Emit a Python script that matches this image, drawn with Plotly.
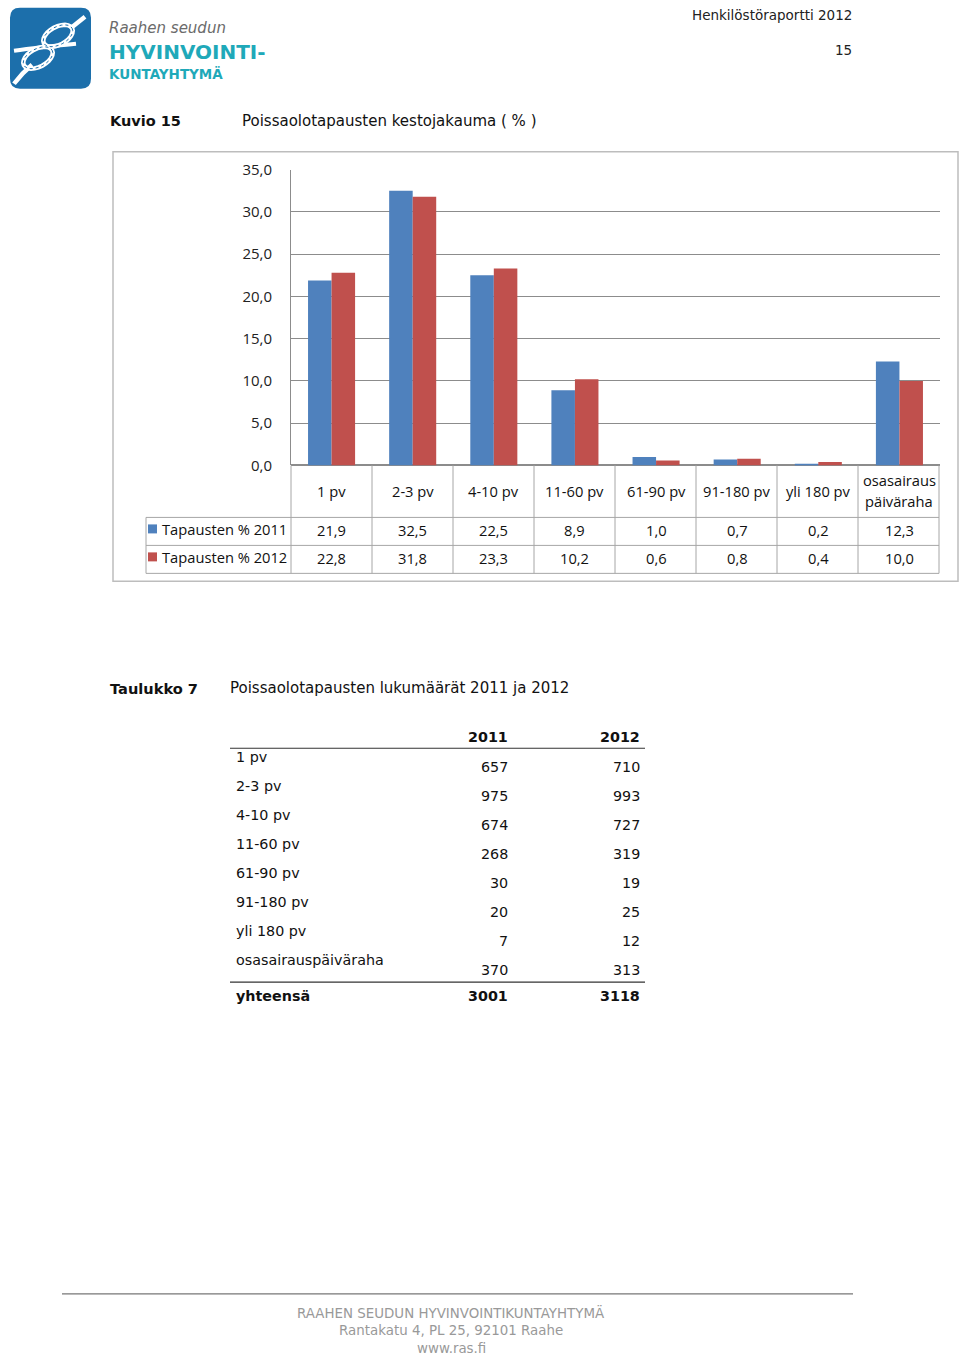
import math
import plotly.graph_objects as go

# ---- data ----
categories = ["1 pv", "2-3 pv", "4-10 pv", "11-60 pv", "61-90 pv", "91-180 pv", "yli 180 pv", "osasairaus<br>päiväraha"]
pct_2011 = [21.9, 32.5, 22.5, 8.9, 1.0, 0.7, 0.2, 12.3]
pct_2012 = [22.8, 31.8, 23.3, 10.2, 0.6, 0.8, 0.4, 10.0]
series_names = ["Tapausten % 2011", "Tapausten % 2012"]
y_ticks = [0, 5, 10, 15, 20, 25, 30, 35]

table_rows = ["1 pv", "2-3 pv", "4-10 pv", "11-60 pv", "61-90 pv", "91-180 pv", "yli 180 pv", "osasairauspäiväraha"]
count_2011 = [657, 975, 674, 268, 30, 20, 7, 370]
count_2012 = [710, 993, 727, 319, 19, 25, 12, 313]
table_years = ["2011", "2012"]

W, H = 960, 1356
BLUE, RED = "#4F81BD", "#C0504D"
FONT = "DejaVu Sans"
CFONT = "Open Sans"

def px(x):
    return x / W

def py(y):
    # empirical correction for the rendered vertical placement
    return 1 - ((y - 9.2) / 0.986) / H

fig = go.Figure()
fig.add_trace(go.Bar(x=categories, y=pct_2011, name=series_names[0], marker_color=BLUE, marker_line_width=0))
fig.add_trace(go.Bar(x=categories, y=pct_2012, name=series_names[1], marker_color=RED, marker_line_width=0))

shapes = []
ann = []

def line(x0, y0, x1, y1, color="#999999", w=1):
    shapes.append(dict(type="line", xref="paper", yref="paper", x0=px(x0), y0=py(y0), x1=px(x1), y1=py(y1),
                       line=dict(color=color, width=w)))

def text(x, y, s, size=15, color="#111111", xanchor="left", family=FONT, bold=False, italic=False, xref="paper"):
    if bold:
        s = "<b>" + s + "</b>"
    if italic:
        s = "<i>" + s + "</i>"
    if xref == "paper":
        xx = x - 1 if xanchor == "left" else (x + 1 if xanchor == "right" else x)
        xv = px(xx)
    else:
        xv = x
    ann.append(dict(x=xv, y=py(y), xref=xref, yref="paper", text=s, showarrow=False,
                    xanchor=xanchor, yanchor="middle", borderpad=0,
                    font=dict(size=size, color=color, family=family)))

# ---- logo ----
shapes.append(dict(type="path", xref="paper", yref="paper",
                   path=f"M {px(20)} {py(6)} L {px(81)} {py(6)} Q {px(91)} {py(6)} {px(91)} {py(16)} "
                        f"L {px(91)} {py(77)} Q {px(91)} {py(87)} {px(81)} {py(87)} L {px(20)} {py(87)} "
                        f"Q {px(10)} {py(87)} {px(10)} {py(77)} L {px(10)} {py(16)} Q {px(10)} {py(6)} {px(20)} {py(6)} Z",
                   fillcolor="#1c6fab", line=dict(width=0)))

def ellipse(cx, cy, a, b, deg, w=4.5, color="white", dash="solid"):
    t = math.radians(deg)
    pts = []
    n = 24
    for k in range(n + 1):
        u = 2 * math.pi * k / n
        ex, ey = a * math.cos(u), b * math.sin(u)
        pts.append((cx + ex * math.cos(t) - ey * math.sin(t), cy + ex * math.sin(t) + ey * math.cos(t)))
    path = "M " + " L ".join(f"{px(x)} {py(y)}" for x, y in pts) + " Z"
    shapes.append(dict(type="path", xref="paper", yref="paper", path=path,
                       line=dict(color=color, width=w, dash=dash)))

def curve(pts, w=4.5, color="white", dash="solid"):
    (a, b), (c, d), (e, f), (g, h) = pts
    shapes.append(dict(type="path", xref="paper", yref="paper",
                       path=f"M {px(a)} {py(b)} C {px(c)} {py(d)} {px(e)} {py(f)} {px(g)} {py(h)}",
                       line=dict(color=color, width=w, dash=dash)))

ellipse(58, 34, 16, 9, -28)
ellipse(38, 56, 16, 9, -28)
curve([(14, 49), (35, 46), (55, 44), (76, 42)], w=4)
curve([(14, 82), (20, 74), (26, 68), (32, 63)])
curve([(70, 27), (75, 23), (80, 19), (85, 15)])
# rope twist hint
ellipse(58, 34, 16, 9, -28, w=1, color="#1c6fab", dash="dot")
ellipse(38, 56, 16, 9, -28, w=1, color="#1c6fab", dash="dot")

text(109, 26, "Raahen seudun", size=15, color="#6b6b6b", family="DejaVu Sans", italic=True)
text(109, 50, "HYVINVOINTI-", size=20, color="#1fa9b9", family="DejaVu Sans", bold=True)
text(109, 72, "KUNTAYHTYMÄ", size=13.5, color="#1fa9b9", family="DejaVu Sans", bold=True)

# ---- header ----
text(852, 13, "Henkilöstöraportti 2012", size=13.5, color="#222222", xanchor="right", family=FONT)
text(852, 48, "15", size=13.5, color="#222222", xanchor="right", family=FONT)

# ---- figure caption ----
text(110, 119, "Kuvio 15", size=14.5, bold=True)
text(242, 119, "Poissaolotapausten kestojakauma ( % )", size=15)

# ---- chart frame ----
shapes.append(dict(type="rect", xref="paper", yref="paper", x0=px(113), y0=py(150), x1=px(958), y1=py(580),
                   line=dict(color="#bdbdbd", width=1.5)))

# ---- data table under the chart ----
col_edges = [291, 372, 453, 534, 615, 696, 777, 858, 939]
for xe in col_edges:
    line(xe, 464, xe, 572, "#a6a6a6")
for ye in (516, 544, 572):
    line(146, ye, 939, ye, "#a6a6a6")
line(146, 516, 146, 572, "#a6a6a6")

CS = 14.7
for i, cat in enumerate(categories):
    if "<br>" in cat:
        a, b = cat.split("<br>")
        text(cat, 479, a, size=CS, family=CFONT, xanchor="center", xref="x")
        text(cat, 500, b, size=CS, family=CFONT, xanchor="center", xref="x")
    else:
        text(cat, 490, cat, size=CS, family=CFONT, xanchor="center", xref="x")
    text(cat, 529, f"{pct_2011[i]:.1f}".replace(".", ","), size=CS, family=CFONT, xanchor="center", xref="x")
    text(cat, 557, f"{pct_2012[i]:.1f}".replace(".", ","), size=CS, family=CFONT, xanchor="center", xref="x")

for name, color, yc in ((series_names[0], BLUE, 528), (series_names[1], RED, 556)):
    shapes.append(dict(type="rect", xref="paper", yref="paper", x0=px(148), y0=py(yc - 5), x1=px(157), y1=py(yc + 4),
                       fillcolor=color, line=dict(width=0)))
    text(162, yc, name, size=CS, family=CFONT)

# ---- Taulukko 7 ----
TS = 14.3
text(110, 687, "Taulukko 7", size=14.6, bold=True)
text(230, 687, "Poissaolotapausten lukumäärät 2011 ja 2012", size=15)
text(508, 736, table_years[0], size=TS, bold=True, xanchor="right")
text(640, 736, table_years[1], size=TS, bold=True, xanchor="right")
line(230, 747, 645, 747, "#333333", 1.2)
for i, lab in enumerate(table_rows):
    yl = 756 + 29 * i
    text(236, yl, lab, size=TS)
    text(508, yl + 10, str(count_2011[i]), size=TS, xanchor="right")
    text(640, yl + 10, str(count_2012[i]), size=TS, xanchor="right")
line(230, 981, 645, 981, "#333333", 1.2)
text(236, 995, "yhteensä", size=TS, bold=True)
text(508, 995, str(sum(count_2011)), size=TS, bold=True, xanchor="right")
text(640, 995, str(sum(count_2012)), size=TS, bold=True, xanchor="right")

# ---- footer ----
line(62, 1293, 853, 1293, "#777777", 1.2)
text(451, 1312, "RAAHEN SEUDUN HYVINVOINTIKUNTAYHTYMÄ", size=13.4, color="#999999", xanchor="center")
text(451, 1330, "Rantakatu 4, PL 25, 92101 Raahe", size=13.4, color="#999999", xanchor="center")
text(451, 1348, "www.ras.fi", size=13.4, color="#999999", xanchor="center")

fig.update_layout(
    width=W, height=H, margin=dict(l=0, r=0, t=0, b=0),
    paper_bgcolor="white", plot_bgcolor="white",
    showlegend=False, barmode="group", bargap=0.42, bargroupgap=0,
    separators=", ",
    shapes=shapes, annotations=ann,
    xaxis=dict(domain=[px(291), px(940)], showticklabels=False, ticks="", showgrid=False,
               showline=False, zeroline=False, fixedrange=True),
    yaxis=dict(domain=[py(464), py(168)], range=[0, 35], tickvals=y_ticks, tickformat=".1f",
               showgrid=True, gridcolor="#8c8c8c", gridwidth=1, zeroline=True, zerolinecolor="#8c8c8c",
               showline=True, linecolor="#8c8c8c", linewidth=1, ticks="", ticklabelstandoff=15,
               tickfont=dict(size=15, family=CFONT, color="#222222")),
)

fig.write_html("out.html")
